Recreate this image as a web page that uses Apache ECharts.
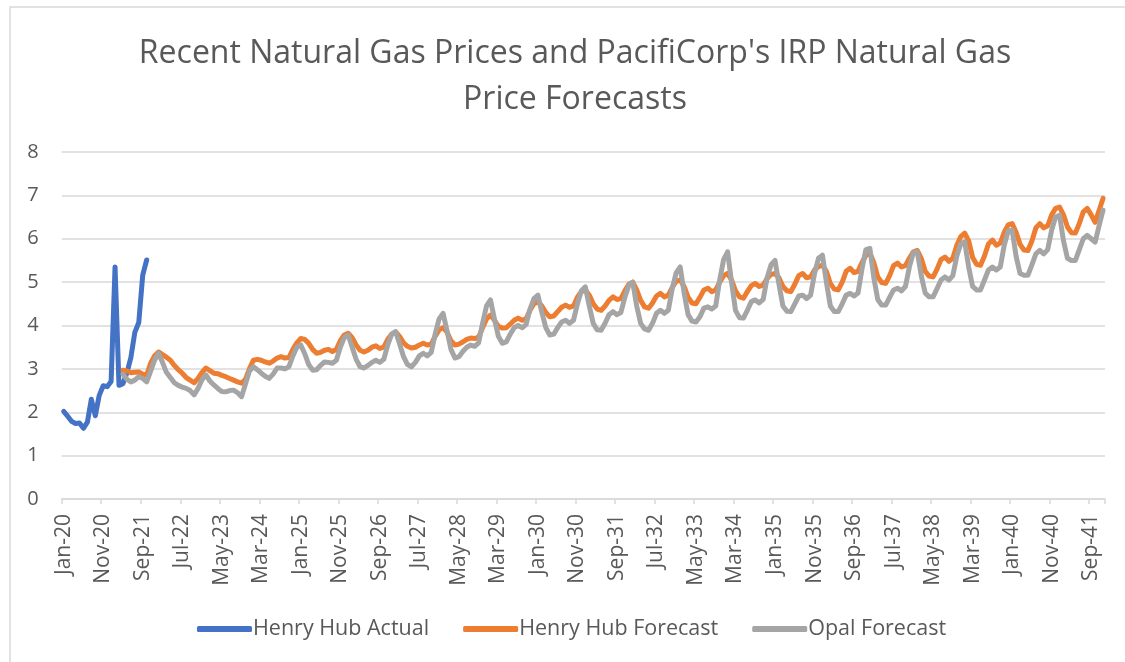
<!DOCTYPE html>
<html>
<head>
<meta charset="utf-8">
<script src="https://cdn.jsdelivr.net/npm/echarts@6/dist/echarts.min.js"></script>
<style>
html,body{margin:0;padding:0;background:#fff;}
#chart{width:1125px;height:662px;}
</style>
</head>
<body>
<div id="chart"></div>
<script>
// Monthly categories Jan-20 .. Dec-41
const monthNames = ['Jan','Feb','Mar','Apr','May','Jun','Jul','Aug','Sep','Oct','Nov','Dec'];
const years = [20,21,22,23,24,25,26,27,28,29,30,31,32,33,34,35,36,37,38,39,40,41];
const categories = [];
years.forEach(y => monthNames.forEach(m => categories.push(m + '-' + y)));

// Henry Hub Actual: Jan-20 .. Oct-21
const henryHubActual = [
  2.02, 1.91, 1.79, 1.74, 1.75, 1.63, 1.77, 2.30, 1.92, 2.39, 2.61, 2.59,
  2.71, 5.35, 2.62, 2.66, 2.91, 3.26, 3.84, 4.07, 5.16, 5.51
];

// Forecasts start Apr-21
const forecastStartLabel = 'Apr-21';
const henryHubForecast = [
  2.97, 2.95, 2.91, 2.92, 2.93, 2.88, 2.86, 3.13, 3.30,
  3.39, 3.33, 3.27, 3.20, 3.08, 2.98, 2.90, 2.80, 2.74, 2.68, 2.78, 2.92,
  3.02, 2.96, 2.90, 2.89, 2.85, 2.82, 2.78, 2.74, 2.70, 2.67, 2.76, 3.00,
  3.20, 3.22, 3.20, 3.16, 3.13, 3.18, 3.25, 3.28, 3.25, 3.26, 3.45, 3.60,
  3.70, 3.68, 3.59, 3.45, 3.36, 3.38, 3.43, 3.45, 3.40, 3.45, 3.65, 3.78,
  3.82, 3.72, 3.55, 3.43, 3.39, 3.43, 3.50, 3.53, 3.47, 3.50, 3.68, 3.80,
  3.85, 3.75, 3.60, 3.52, 3.48, 3.50, 3.55, 3.59, 3.55, 3.57, 3.75, 3.90,
  3.95, 3.85, 3.65, 3.55, 3.57, 3.62, 3.68, 3.71, 3.70, 3.73, 3.95, 4.15,
  4.24, 4.12, 3.98, 3.94, 3.95, 4.03, 4.12, 4.17, 4.12, 4.15, 4.35, 4.50,
  4.55, 4.45, 4.30, 4.20, 4.22, 4.32, 4.42, 4.47, 4.42, 4.45, 4.65, 4.78,
  4.82, 4.70, 4.50, 4.38, 4.35, 4.45, 4.58, 4.66, 4.60, 4.62, 4.80, 4.95,
  5.00, 4.82, 4.58, 4.43, 4.40, 4.52, 4.68, 4.74, 4.66, 4.70, 4.88, 5.02,
  5.05, 4.90, 4.65, 4.52, 4.50, 4.65, 4.82, 4.86, 4.78, 4.82, 5.00, 5.15,
  5.20, 5.05, 4.80, 4.66, 4.63, 4.78, 4.92, 4.97, 4.90, 4.93, 5.08, 5.18,
  5.20, 5.10, 4.90, 4.80, 4.78, 4.95, 5.15, 5.20, 5.10, 5.12, 5.28, 5.36,
  5.39, 5.25, 4.97, 4.84, 4.82, 5.00, 5.25, 5.32, 5.22, 5.25, 5.45, 5.62,
  5.67, 5.45, 5.12, 4.99, 4.97, 5.15, 5.38, 5.44, 5.35, 5.38, 5.55, 5.70,
  5.73, 5.55, 5.25, 5.14, 5.12, 5.30, 5.52, 5.58, 5.48, 5.55, 5.85, 6.05,
  6.13, 5.95, 5.57, 5.41, 5.39, 5.60, 5.88, 5.97, 5.85, 5.90, 6.15, 6.32,
  6.35, 6.15, 5.87, 5.74, 5.73, 5.95, 6.25, 6.35, 6.25, 6.30, 6.55, 6.70,
  6.73, 6.55, 6.27, 6.14, 6.13, 6.35, 6.62, 6.70, 6.55, 6.38, 6.65, 6.93
];
const opalForecast = [
  2.88, 2.76, 2.70, 2.74, 2.82, 2.78, 2.70, 2.95, 3.20,
  3.36, 3.15, 2.92, 2.80, 2.68, 2.62, 2.58, 2.55, 2.50, 2.40, 2.55, 2.75,
  2.86, 2.72, 2.63, 2.55, 2.48, 2.47, 2.50, 2.51, 2.45, 2.36, 2.65, 2.95,
  3.05, 2.98, 2.90, 2.83, 2.78, 2.88, 3.02, 3.02, 3.00, 3.05, 3.30, 3.50,
  3.55, 3.35, 3.10, 2.97, 2.98, 3.08, 3.16, 3.15, 3.13, 3.20, 3.50, 3.72,
  3.78, 3.50, 3.22, 3.05, 3.02, 3.08, 3.15, 3.20, 3.15, 3.22, 3.55, 3.80,
  3.86, 3.58, 3.28, 3.10, 3.05, 3.15, 3.30, 3.36, 3.30, 3.38, 3.80, 4.15,
  4.28, 3.88, 3.45, 3.25, 3.28, 3.40, 3.50, 3.55, 3.52, 3.60, 4.05, 4.45,
  4.59, 4.15, 3.75, 3.59, 3.62, 3.80, 3.95, 4.00, 3.95, 4.02, 4.38, 4.62,
  4.70, 4.30, 3.95, 3.78, 3.80, 3.95, 4.08, 4.12, 4.05, 4.12, 4.50, 4.80,
  4.89, 4.45, 4.05, 3.90, 3.89, 4.05, 4.25, 4.32, 4.25, 4.30, 4.65, 4.92,
  5.00, 4.45, 4.05, 3.92, 3.89, 4.05, 4.28, 4.35, 4.28, 4.35, 4.85, 5.22,
  5.35, 4.75, 4.25, 4.10, 4.08, 4.20, 4.40, 4.43, 4.38, 4.45, 5.05, 5.52,
  5.70, 5.00, 4.35, 4.18, 4.17, 4.35, 4.55, 4.59, 4.52, 4.60, 5.10, 5.40,
  5.50, 4.95, 4.45, 4.33, 4.32, 4.50, 4.68, 4.70, 4.62, 4.70, 5.20, 5.55,
  5.62, 5.00, 4.45, 4.32, 4.32, 4.50, 4.70, 4.74, 4.68, 4.75, 5.30, 5.75,
  5.78, 5.10, 4.60, 4.47, 4.47, 4.65, 4.82, 4.86, 4.80, 4.90, 5.35, 5.68,
  5.70, 5.15, 4.75, 4.66, 4.66, 4.85, 5.05, 5.12, 5.05, 5.15, 5.60, 5.88,
  5.93, 5.35, 4.90, 4.82, 4.82, 5.05, 5.28, 5.35, 5.28, 5.35, 5.85, 6.18,
  6.20, 5.60, 5.20, 5.16, 5.16, 5.40, 5.65, 5.73, 5.65, 5.75, 6.20, 6.50,
  6.54, 5.95, 5.55, 5.50, 5.50, 5.75, 6.00, 6.08, 6.00, 5.92, 6.30, 6.66
];

const yTicks = [0,1,2,3,4,5,6,7,8];

const startIdx = categories.indexOf(forecastStartLabel);
const pad = (arr, start) => categories.map((c, i) => {
  const k = i - start;
  return (k >= 0 && k < arr.length) ? arr[k] : null;
});

const chart = echarts.init(document.getElementById('chart'), null, {renderer: 'canvas'});
const txt = '#595959';
const gridC = '#D9D9D9';
const font = 'Open Sans';

chart.setOption({
  animation: false,
  backgroundColor: '#ffffff',
  graphic: [{
    type: 'rect',
    shape: {x: 10, y: 7, width: 1130, height: 660},
    style: {fill: 'none', stroke: gridC, lineWidth: 1.5},
    silent: true
  }],
  title: {
    text: "Recent Natural Gas Prices and PacifiCorp's IRP Natural Gas\nPrice Forecasts",
    left: 570,
    textAlign: 'center',
    top: 26,
    textStyle: {fontFamily: font, fontSize: 32, fontWeight: 'normal', color: txt, lineHeight: 46}
  },
  legend: {
    left: 192,
    top: 613,
    itemGap: 34,
    itemWidth: 55,
    itemHeight: 6,
    icon: 'roundRect',
    textStyle: {fontFamily: font, fontSize: 21.5, color: txt, padding: [0,0,0,-4]},
    data: ['Henry Hub Actual', 'Henry Hub Forecast', 'Opal Forecast']
  },
  grid: {left: 61.7, right: 20, top: 152, bottom: 163, containLabel: false},
  xAxis: {
    type: 'category',
    data: categories,
    boundaryGap: true,
    axisLine: {lineStyle: {color: gridC, width: 1.5}},
    axisTick: {show: true, interval: 9, length: 5, lineStyle: {color: gridC, width: 1.5}},
    axisLabel: {interval: 9, rotate: 90, margin: 15, fontFamily: font, fontSize: 21, color: txt},
    splitLine: {show: false}
  },
  yAxis: {
    type: 'value',
    min: yTicks[0],
    max: yTicks[yTicks.length - 1],
    interval: 1,
    axisLine: {show: false},
    axisTick: {show: false},
    axisLabel: {margin: 23, fontFamily: font, fontSize: 20, color: txt},
    splitLine: {lineStyle: {color: gridC, width: 1.5}}
  },
  series: [
    {
      name: 'Henry Hub Actual', type: 'line', data: pad(henryHubActual, 0),
      showSymbol: false, symbol: 'none', color: '#4472C4',
      lineStyle: {width: 5, color: '#4472C4', cap: 'round', join: 'round'}
    },
    {
      name: 'Henry Hub Forecast', type: 'line', data: pad(henryHubForecast, startIdx),
      showSymbol: false, symbol: 'none', color: '#ED7D31',
      lineStyle: {width: 5, color: '#ED7D31', cap: 'round', join: 'round'}
    },
    {
      name: 'Opal Forecast', type: 'line', data: pad(opalForecast, startIdx),
      showSymbol: false, symbol: 'none', color: '#A5A5A5',
      lineStyle: {width: 5, color: '#A5A5A5', cap: 'round', join: 'round'}
    }
  ]
});
</script>
</body>
</html>
